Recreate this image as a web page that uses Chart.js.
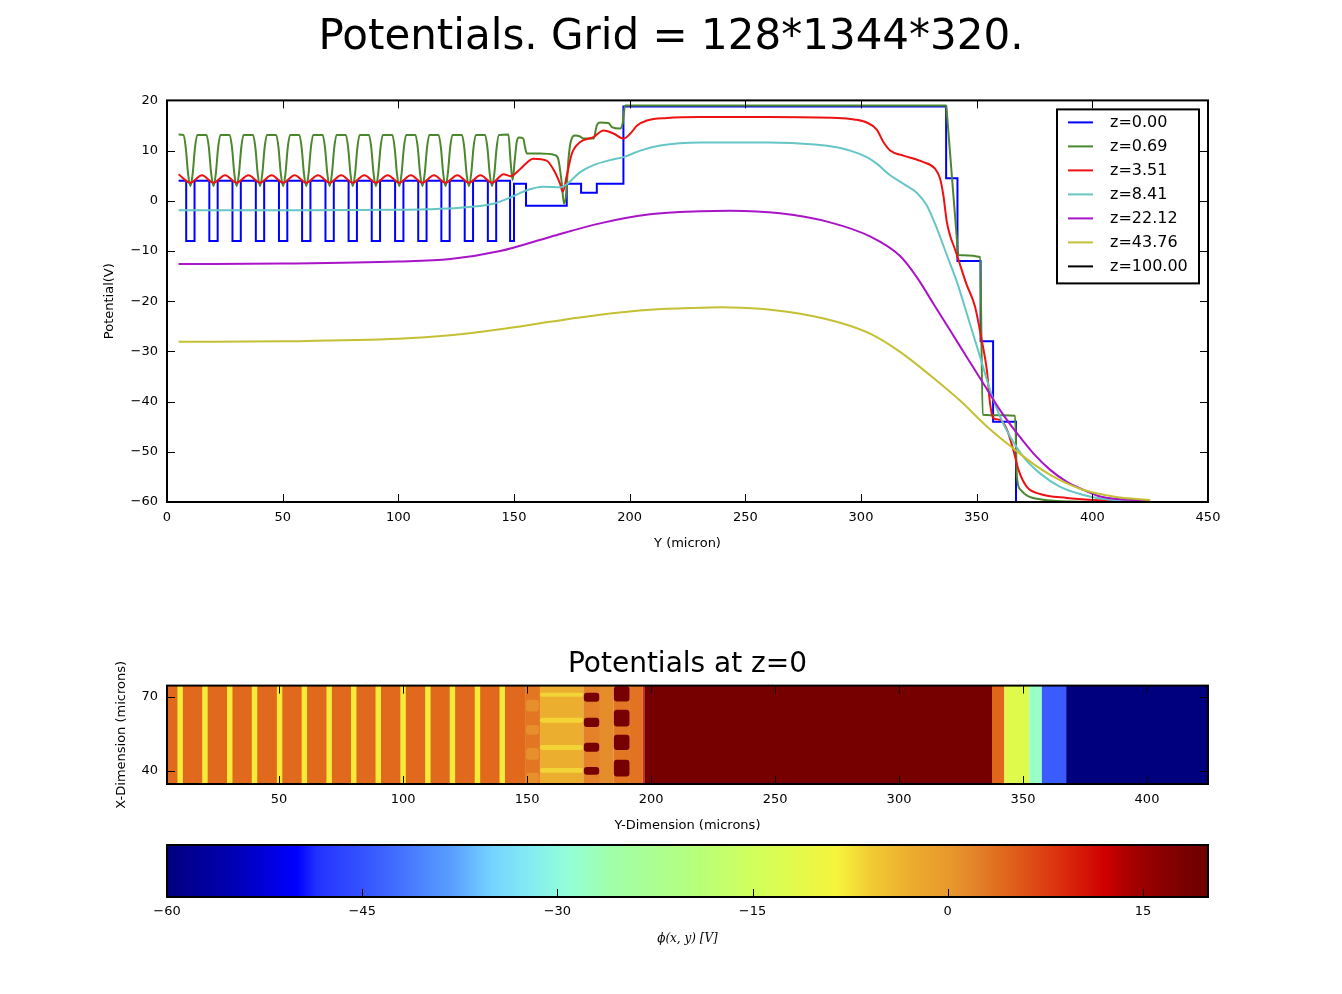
<!DOCTYPE html>
<html>
<head>
<meta charset="utf-8">
<title>Potentials</title>
<script src="https://cdn.jsdelivr.net/npm/chart.js@4.4.0/dist/chart.umd.min.js"></script>
<style>
  html, body { margin: 0; padding: 0; background: #fff; }
  #page { position: relative; width: 1342px; height: 994px; }
  canvas { position: absolute; left: 0; }
</style>
</head>
<body>
<div id="page">
  <canvas id="lines" width="1342" height="570" style="top:0"></canvas>
  <canvas id="map" width="1342" height="210" style="top:630px"></canvas>
  <canvas id="cbar" width="1342" height="154" style="top:840px"></canvas>
</div>
<script>
// ---------- line plot: potential vs Y (micron), one series per z ----------
const zLabels = ['z=0.00', 'z=0.69', 'z=3.51', 'z=8.41', 'z=22.12', 'z=43.76', 'z=100.00'];
const zColors = ['#0000ff', '#4b872c', '#ee1111', '#66c6c6', '#aa14c8', '#c4c033', '#000000'];

const potZ000 = [
  [5,4],[8.3,4],[8.3,-8],[11.9,-8],[11.9,4],
  [18.3,4],[18.3,-8],[21.9,-8],[21.9,4],
  [28.3,4],[28.3,-8],[31.9,-8],[31.9,4],
  [38.4,4],[38.4,-8],[42.0,-8],[42.0,4],
  [48.4,4],[48.4,-8],[52.0,-8],[52.0,4],
  [58.4,4],[58.4,-8],[62.0,-8],[62.0,4],
  [68.5,4],[68.5,-8],[72.1,-8],[72.1,4],
  [78.5,4],[78.5,-8],[82.1,-8],[82.1,4],
  [88.5,4],[88.5,-8],[92.1,-8],[92.1,4],
  [98.6,4],[98.6,-8],[102.2,-8],[102.2,4],
  [108.6,4],[108.6,-8],[112.2,-8],[112.2,4],
  [118.6,4],[118.6,-8],[122.2,-8],[122.2,4],
  [128.7,4],[128.7,-8],[132.3,-8],[132.3,4],
  [138.7,4],[138.7,-8],[142.3,-8],[142.3,4],
  [148.3,4],[148.3,-8],[150.0,-8],[150.0,3.4],
  [155.2,3.4],[155.2,-1],[172.8,-1],[172.8,3.4],[179,3.4],[179,1.6],[185.8,1.6],[185.8,3.4],
  [197.3,3.4],[197.3,18.8],[336.8,18.8],[336.8,4.5],[341.7,4.5],[341.7,-12],[351.7,-12],
  [351.7,-28],[357.1,-28],[357.1,-44],[367,-44],[367,-60],[425,-60]
];

const potZ069 = [
  [5,13.2],
  [7.1,13.1],[8.1,10.6],[9.1,5.4],[10.1,2.9],[11.1,5.4],[12.1,10.6],[13.1,13.1],
  [17.1,13.1],[18.1,10.6],[19.1,5.4],[20.1,2.9],[21.1,5.4],[22.1,10.6],[23.1,13.1],
  [27.1,13.1],[28.1,10.6],[29.1,5.4],[30.1,2.9],[31.1,5.4],[32.1,10.6],[33.1,13.1],
  [37.2,13.1],[38.2,10.6],[39.2,5.4],[40.2,2.9],[41.2,5.4],[42.2,10.6],[43.2,13.1],
  [47.2,13.1],[48.2,10.6],[49.2,5.4],[50.2,2.9],[51.2,5.4],[52.2,10.6],[53.2,13.1],
  [57.2,13.1],[58.2,10.6],[59.2,5.4],[60.2,2.9],[61.2,5.4],[62.2,10.6],[63.2,13.1],
  [67.3,13.1],[68.3,10.6],[69.3,5.4],[70.3,2.9],[71.3,5.4],[72.3,10.6],[73.3,13.1],
  [77.3,13.1],[78.3,10.6],[79.3,5.4],[80.3,2.9],[81.3,5.4],[82.3,10.6],[83.3,13.1],
  [87.3,13.1],[88.3,10.6],[89.3,5.4],[90.3,2.9],[91.3,5.4],[92.3,10.6],[93.3,13.1],
  [97.4,13.1],[98.4,10.6],[99.4,5.4],[100.4,2.9],[101.4,5.4],[102.4,10.6],[103.4,13.1],
  [107.4,13.1],[108.4,10.6],[109.4,5.4],[110.4,2.9],[111.4,5.4],[112.4,10.6],[113.4,13.1],
  [117.4,13.1],[118.4,10.6],[119.4,5.4],[120.4,2.9],[121.4,5.4],[122.4,10.6],[123.4,13.1],
  [127.5,13.1],[128.5,10.6],[129.5,5.4],[130.5,2.9],[131.5,5.4],[132.5,10.6],[133.5,13.1],
  [137.5,13.1],[138.5,10.6],[139.5,5.4],[140.5,2.9],[141.5,5.4],[142.5,10.6],[143.5,13.1],
  [147.6,13.2],[148.5,8.0],[149.4,4.1],[150.3,8.0],[151.2,11.8],[152.2,12.6],[154.0,12.4],
  [154.8,10.6],[155.6,9.4],[161,9.4],[167.7,9.1],[169.2,8.2],[170.6,3.7],[171.6,-0.6],
  [172.6,1.5],[173.5,8.0],[174.5,11.7],[176.4,13.0],[178.6,12.8],[180,12.4],[184.4,12.4],
  [185.8,15.0],[187.2,15.6],[190.8,15.5],[192.3,14.7],[195.9,14.4],[197.0,15.5],[198.0,19.0],
  [336.8,19.0],[337.3,16.5],[341.6,-8.5],[342.1,-10.8],[351.5,-11.2],[352.6,-42.6],
  [366.6,-42.8],[367.4,-55],[369,-57.6],[372,-58.8],[378,-59.5],[390,-59.9],[425,-60]
];

const potZ351 = [
  [5,5.3],[10.1,3.6],[15.1,5.1],[20.1,3.6],[25.1,5.1],[30.1,3.6],[35.2,5.1],[40.2,3.6],
  [45.2,5.1],[50.2,3.6],[55.2,5.1],[60.2,3.6],[65.3,5.1],[70.3,3.6],[75.3,5.1],[80.3,3.6],
  [85.3,5.1],[90.3,3.6],[95.4,5.1],[100.4,3.6],[105.4,5.1],[110.4,3.6],[115.4,5.1],
  [120.4,3.6],[125.5,5.1],[130.5,3.6],[135.5,5.1],[140.5,3.6],[145.5,5.3],[148.5,4.9],
  [152.6,6.3],[158.4,8.4],[164.1,8.0],[167.7,5.7],[169.9,3.4],[171.1,1.8],[172.8,5.0],
  [175.0,9.4],[178.6,11.7],[184.4,12.7],[188.7,14.0],[193.0,13.4],[197.4,12.4],[200.3,13.4],
  [203.2,15.0],[207.5,16.0],[216.1,16.5],[230.5,16.7],[260,16.7],[290,16.5],[297,16.2],
  [302.5,15.6],[306.8,14.2],[309.7,11.7],[312.6,10.0],[318.3,9.0],[327,7.7],[332,6.4],
  [334.2,4.4],[335.6,1.1],[337.1,-4.2],[338.5,-6.9],[340.5,-9.5],[342.5,-12.3],[345.5,-16.5],
  [349.3,-21.1],[352.2,-27.8],[354.4,-33.7],[355.8,-40.4],[357.2,-43.3],[360.1,-43.6],
  [363,-45.5],[365.9,-49.7],[368.1,-53.6],[371.7,-57],[377.4,-58.4],[389,-59.2],[400.4,-59.6],
  [425,-60]
];

const potZ841 = [
  [5,-1.9],[60,-1.9],[100,-1.8],[112,-1.7],[126.7,-1.4],[141,-0.6],[149.7,0.9],[155.5,2.1],
  [162.7,2.8],[169.9,2.7],[172.8,3.3],[178.6,5.7],[184.4,7.1],[191.5,8.1],[197.4,8.7],
  [204.6,10.0],[213.2,11.0],[230.5,11.6],[260,11.6],[280,11.2],[290,10.6],[295.3,10.0],
  [302.5,8.7],[306.8,7.4],[312.6,5.1],[318.3,3.4],[324.1,1.6],[328.4,-0.9],[332.8,-5.5],
  [337.1,-10.8],[341.5,-16.2],[345.7,-22.4],[351.5,-31.1],[355.8,-37.7],[360.1,-43],
  [364.5,-47],[370.2,-51],[377.4,-54.3],[386.1,-57],[396.2,-58.6],[403.4,-59.3],[425,-60]
];

const potZ2212 = [
  [5,-12.6],[50,-12.5],[100,-12.1],[122.4,-11.6],[144,-10.0],[165.6,-7.2],[187.2,-4.5],
  [208.8,-2.7],[230.4,-2.1],[243.4,-2.0],[265,-2.5],[286.6,-4.3],[303.9,-7.1],[316.9,-11.0],
  [324.1,-15.2],[331.3,-20.5],[338.5,-25.8],[345.7,-31.1],[352.9,-36.4],[360.1,-41.7],
  [367.4,-46.3],[374.5,-50.3],[381.8,-53.6],[389,-56],[396.2,-57.6],[403.4,-58.9],[425,-59.8]
];

const potZ4376 = [
  [5,-28.1],[50,-28.0],[100,-27.5],[122.4,-26.8],[144,-25.6],[165.6,-24.1],[187.2,-22.7],
  [208.8,-21.7],[230.4,-21.3],[240,-21.2],[256.4,-21.5],[273.7,-22.5],[291,-24.3],[305,-26.7],
  [316.9,-30.1],[330,-34.8],[342.8,-39.8],[355,-45.2],[366.6,-49.6],[374.5,-52.4],
  [381.8,-54.6],[389,-56.3],[396.2,-57.6],[403.4,-58.4],[412,-59.1],[425,-59.6]
];

const potZ10000 = []; // not visible in the figure

const zSeries = [potZ000, potZ069, potZ351, potZ841, potZ2212, potZ4376, potZ10000];

const lineXTicks = [0, 50, 100, 150, 200, 250, 300, 350, 400, 450];
const lineYTicks = [-60, -50, -40, -30, -20, -10, 0, 10, 20];

// ---------- map of the potential at z=0 ----------
const mapRangeH = [4.8, 424.6];   // Y-dimension (microns)
const mapRangeV = [34.7, 74.5];   // X-dimension (microns)
const mapXTicks = [50, 100, 150, 200, 250, 300, 350, 400];
const mapYTicks = [40, 70];

// full-height bands: [from, to, potential]
const mapBands = [
  [4.8,149.2,4.2],[149.2,155.2,3.2],[155.2,172.7,-3],[172.7,179.4,2.2],[179.4,184.8,1.2],
  [184.8,191.5,3.2],[191.5,196.6,3.4],[196.6,197.3,9],[197.3,337.5,18.8],[337.5,342.5,4.5],
  [342.5,352.5,-12],[352.5,357.6,-28],[357.6,367.4,-44],[367.4,424.6,-60]
];
// gate stripes, full height
const mapStripes = [
  [9.0,11.2],[19.0,21.2],[29.0,31.2],[39.0,41.2],[49.1,51.3],[59.1,61.3],[69.1,71.3],
  [79.0,81.2],[88.9,91.1],[98.9,101.1],[108.9,111.1],[118.8,121.0],[128.9,131.1],[138.9,141.1]
];
const stripePot = -8;
// blobs: [fromH, toH, fromV, toV, potential]
const mapBlobs = [
  [149.6,154.8,64.0,68.8,1.0],[149.6,154.8,54.6,58.6,1.0],[149.6,154.8,44.5,49.3,1.0],[149.6,154.8,35.1,39.2,1.0],
  [155.2,172.7,70.0,71.6,-6.5],[155.2,172.7,59.5,61.5,-6.5],[155.2,172.7,48.5,50.5,-6.5],[155.2,172.7,39.2,41.2,-6.5],
  [172.9,179.1,68.0,71.6,18.8],[172.9,179.1,57.8,61.5,18.8],[172.9,179.1,47.7,51.4,18.8],[172.9,179.1,38.4,41.6,18.8],
  [185.0,191.3,68.1,74.2,18.8],[185.0,191.3,58.0,64.7,18.8],[185.0,191.3,48.5,54.6,18.8],[185.0,191.3,37.7,44.5,18.8]
];

// ---------- colour scale ----------
const cbarRange = [-60, 20];
const cbarTicks = [-60, -45, -30, -15, 0, 15];
const cmapStops = [
  [-60,'#00007f'],[-55,'#0000b2'],[-50,'#0000ff'],[-48.5,'#2232ff'],[-44,'#3a5cff'],
  [-38,'#5aa0ff'],[-35,'#76d4ff'],[-32,'#84ecf2'],[-29,'#94ffd6'],[-26,'#a0ffaa'],
  [-20,'#b4ff80'],[-15,'#d0ff5c'],[-12,'#e0fa4c'],[-8.5,'#f6f43c'],[-6,'#f2cc34'],
  [-3,'#ecae2e'],[0,'#e89a2c'],[2,'#e4842a'],[4,'#e06c1e'],[8,'#dc3810'],[12,'#d00000'],
  [14,'#a80000'],[17,'#850000'],[20,'#6c0000']
];

Chart.defaults.font.family = "'DejaVu Sans', sans-serif";
Chart.defaults.color = '#000';

const fmtTick = (v) => (v < 0 ? '\u2212' + Math.abs(v) : String(v));
const fixTicks = (list) => (scale) => { scale.ticks = list.map((value) => ({ value })); };

function hexRgb(h) {
  const n = parseInt(h.slice(1), 16);
  return [(n >> 16) & 255, (n >> 8) & 255, n & 255];
}

function potColor(v) {
  if (v <= cmapStops[0][0]) return cmapStops[0][1];
  for (let i = 1; i < cmapStops.length; i++) {
    const [v1, c1] = cmapStops[i];
    if (v <= v1) {
      const [v0, c0] = cmapStops[i - 1];
      const t = (v - v0) / (v1 - v0);
      const a = hexRgb(c0), b = hexRgb(c1);
      const m = a.map((x, k) => Math.round(x + (b[k] - x) * t));
      return `rgb(${m[0]},${m[1]},${m[2]})`;
    }
  }
  return cmapStops[cmapStops.length - 1][1];
}

// black frame + matplotlib style inward ticks
const framePlugin = {
  id: 'frame',
  afterDatasetsDraw(chart, args, opts) {
    const { ctx, chartArea: a } = chart;
    const len = 8;
    ctx.save();
    ctx.strokeStyle = '#000';
    ctx.lineWidth = 1;
    (opts.sides || []).forEach((side) => {
      const horiz = side === 'top' || side === 'bottom';
      const sc = horiz ? chart.scales.x : chart.scales.y;
      sc.ticks.forEach((t) => {
        const p = Math.round(sc.getPixelForValue(t.value)) + 0.5;
        ctx.beginPath();
        if (side === 'bottom') { ctx.moveTo(p, a.bottom); ctx.lineTo(p, a.bottom - len); }
        if (side === 'top') { ctx.moveTo(p, a.top); ctx.lineTo(p, a.top + len); }
        if (side === 'left') { ctx.moveTo(a.left, p); ctx.lineTo(a.left + len, p); }
        if (side === 'right') { ctx.moveTo(a.right, p); ctx.lineTo(a.right - len, p); }
        ctx.stroke();
      });
    });
    ctx.lineWidth = 2;
    ctx.strokeRect(a.left, a.top, a.right - a.left, a.bottom - a.top);
    ctx.restore();
  }
};
Chart.register(framePlugin);

const legendBox = {
  id: 'legendBox',
  afterDraw(chart) {
    const { ctx, chartArea: a } = chart;
    const left = a.right - 151, top = a.top + 9, w = 142, h = 174;
    ctx.save();
    ctx.fillStyle = '#fff';
    ctx.fillRect(left, top, w, h);
    ctx.lineWidth = 2;
    ctx.strokeStyle = '#000';
    ctx.strokeRect(left, top, w, h);
    ctx.font = "16px 'DejaVu Sans'";
    ctx.textBaseline = 'middle';
    ctx.textAlign = 'left';
    chart.data.datasets.forEach((ds, i) => {
      const y = top + 13 + i * 24;
      ctx.strokeStyle = ds.borderColor;
      ctx.lineWidth = 2;
      ctx.beginPath();
      ctx.moveTo(left + 11, y);
      ctx.lineTo(left + 36, y);
      ctx.stroke();
      ctx.fillStyle = '#000';
      ctx.fillText(ds.label, left + 53, y);
    });
    ctx.restore();
  }
};

const heatCells = {
  id: 'heatCells',
  beforeDatasetsDraw(chart) {
    const { ctx, chartArea: a, scales: { x, y } } = chart;
    ctx.save();
    ctx.beginPath();
    ctx.rect(a.left, a.top, a.right - a.left, a.bottom - a.top);
    ctx.clip();
    const cell = (h0, h1, v0, v1, pot, r) => {
      const px0 = x.getPixelForValue(h0), px1 = x.getPixelForValue(h1);
      const py0 = y.getPixelForValue(v1), py1 = y.getPixelForValue(v0);
      ctx.fillStyle = potColor(pot);
      ctx.beginPath();
      if (r) ctx.roundRect(px0, py0, px1 - px0, py1 - py0, r);
      else ctx.rect(px0, py0, px1 - px0, py1 - py0);
      ctx.fill();
    };
    mapBands.forEach(([h0, h1, pot]) => cell(h0, h1, mapRangeV[0], mapRangeV[1], pot, 0));
    mapStripes.forEach(([h0, h1]) => cell(h0, h1, mapRangeV[0], mapRangeV[1], stripePot, 0));
    mapBlobs.forEach(([h0, h1, v0, v1, pot]) => cell(h0, h1, v0, v1, pot, 3));
    ctx.restore();
  }
};

const noGrid = { display: false, drawTicks: false };

// ---------- chart 1: potentials ----------
new Chart(document.getElementById('lines'), {
  type: 'line',
  data: {
    datasets: zSeries.map((pts, i) => ({
      label: zLabels[i],
      data: pts,
      borderColor: zColors[i],
      backgroundColor: zColors[i],
      borderWidth: 2,
      pointRadius: 0,
      fill: false,
      tension: 0,
      cubicInterpolationMode: i === 0 ? 'default' : 'monotone',
      order: zSeries.length - i,
    })),
  },
  options: {
    responsive: false,
    animation: false,
    devicePixelRatio: 1,
    layout: { padding: 0 },
    plugins: {
      legend: { display: false },
      tooltip: { enabled: false },
      title: {
        display: true,
        text: 'Potentials. Grid = 128*1344*320.',
        font: { size: 42, weight: 'normal' },
        color: '#000',
        padding: { top: 13, bottom: 37 },
      },
      frame: { sides: ['bottom', 'top', 'left', 'right'] },
    },
    scales: {
      x: {
        type: 'linear', min: 0, max: 450,
        afterBuildTicks: fixTicks(lineXTicks),
        afterFit: (s) => { s.height = 68; },
        grid: noGrid, border: { display: false },
        ticks: { padding: 8, font: { size: 13 }, callback: fmtTick, maxRotation: 0 },
        title: { display: true, text: 'Y (micron)', font: { size: 13 }, padding: { top: 0, bottom: 19 } },
      },
      y: {
        type: 'linear', min: -60, max: 20,
        afterBuildTicks: fixTicks(lineYTicks),
        afterFit: (s) => { s.width = 167; },
        grid: noGrid, border: { display: false },
        ticks: { padding: 9, font: { size: 13 }, callback: fmtTick },
        title: { display: true, text: 'Potential(V)', font: { size: 13 }, padding: { top: 102, bottom: 0 } },
      },
      // empty right-hand margin so the figure title stays centred on the page
      yMargin: {
        type: 'linear', position: 'right', min: -60, max: 20,
        afterFit: (s) => { s.width = 134; },
        grid: noGrid, border: { display: false },
        ticks: { display: false },
      },
    },
  },
  plugins: [legendBox],
});

// ---------- chart 2: map at z=0 ----------
new Chart(document.getElementById('map'), {
  type: 'scatter',
  data: { datasets: [] },
  options: {
    responsive: false,
    animation: false,
    devicePixelRatio: 1,
    layout: { padding: { left: 0, right: 134, top: 0, bottom: 0 } },
    plugins: {
      legend: { display: false },
      tooltip: { enabled: false },
      title: {
        display: true,
        text: 'Potentials at z=0',
        fullSize: false,
        font: { size: 28, weight: 'normal' },
        color: '#000',
        padding: { top: 18, bottom: 4 },
      },
      frame: { sides: ['bottom', 'top', 'left', 'right'] },
    },
    scales: {
      x: {
        type: 'linear', min: mapRangeH[0], max: mapRangeH[1],
        afterBuildTicks: fixTicks(mapXTicks),
        afterFit: (s) => { s.height = 56; },
        grid: noGrid, border: { display: false },
        ticks: { padding: 8, font: { size: 13 }, callback: fmtTick, maxRotation: 0 },
        title: { display: true, text: 'Y-Dimension (microns)', font: { size: 13 }, padding: { top: 0, bottom: 7 } },
      },
      y: {
        type: 'linear', min: mapRangeV[0], max: mapRangeV[1],
        afterBuildTicks: fixTicks(mapYTicks),
        afterFit: (s) => { s.width = 167; },
        grid: noGrid, border: { display: false },
        ticks: { padding: 9, font: { size: 13 }, callback: fmtTick },
        title: { display: true, text: 'X-Dimension (microns)', font: { size: 13 }, padding: { top: 114, bottom: 0 } },
      },
    },
  },
  plugins: [heatCells],
});

// ---------- chart 3: colour bar ----------
new Chart(document.getElementById('cbar'), {
  type: 'bar',
  data: {
    labels: [''],
    datasets: [{
      data: [cbarRange],
      barPercentage: 1,
      categoryPercentage: 1,
      borderWidth: 0,
      backgroundColor: (c) => {
        const ch = c.chart;
        if (!ch.chartArea) return '#888';
        const xs = ch.scales.x;
        const g = ch.ctx.createLinearGradient(xs.getPixelForValue(cbarRange[0]), 0, xs.getPixelForValue(cbarRange[1]), 0);
        cmapStops.forEach(([v, col]) => g.addColorStop((v - cbarRange[0]) / (cbarRange[1] - cbarRange[0]), col));
        return g;
      },
    }],
  },
  options: {
    indexAxis: 'y',
    responsive: false,
    animation: false,
    devicePixelRatio: 1,
    layout: { padding: { left: 167, right: 134, top: 5, bottom: 0 } },
    plugins: {
      legend: { display: false },
      tooltip: { enabled: false },
      frame: { sides: ['bottom'] },
    },
    scales: {
      x: {
        type: 'linear', position: 'bottom', min: cbarRange[0], max: cbarRange[1],
        afterBuildTicks: fixTicks(cbarTicks),
        afterFit: (s) => { s.height = 97; },
        grid: noGrid, border: { display: false },
        ticks: { padding: 7, font: { size: 13 }, callback: fmtTick, maxRotation: 0 },
        title: {
          display: true, text: '\u03d5(x, y) [V]',
          font: { size: 12, family: "'DejaVu Serif', serif", style: 'italic' },
          padding: { top: 0, bottom: 48 },
        },
      },
      y: { display: false },
    },
  },
});
</script>
</body>
</html>
